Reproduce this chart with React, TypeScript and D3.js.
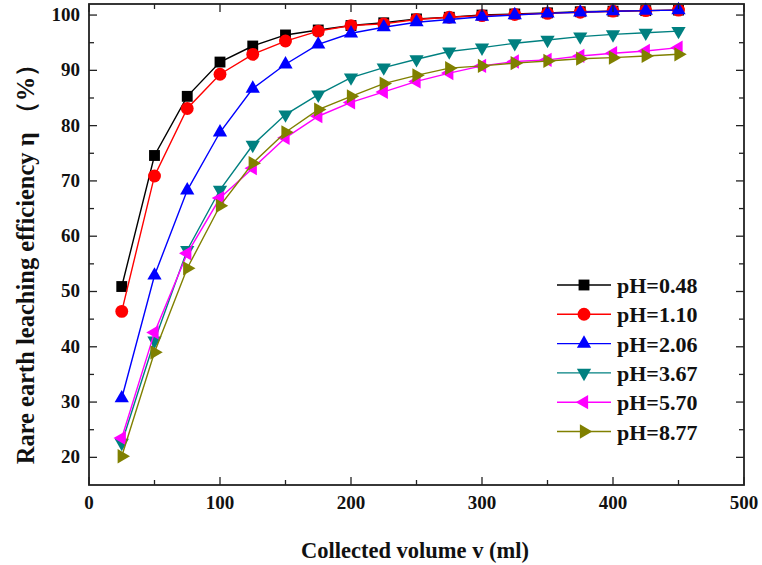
import React from "react";
import * as d3 from "d3";

const volumes = [25, 50, 75, 100, 125, 150, 175, 200, 225, 250, 275, 300, 325, 350, 375, 400, 425, 450];
const ph048 = [50.9, 74.6, 85.3, 91.5, 94.4, 96.4, 97.3, 98.1, 98.6, 99.3, 99.6, 100.0, 100.2, 100.4, 100.6, 100.7, 100.8, 100.9];
const ph110 = [46.4, 70.9, 83.1, 89.3, 92.9, 95.3, 97.1, 98.1, 98.4, 99.2, 99.6, 99.9, 100.1, 100.3, 100.5, 100.7, 100.8, 100.9];
const ph206 = [30.7, 52.9, 68.3, 78.8, 86.7, 91.1, 94.7, 96.7, 97.8, 98.7, 99.2, 99.7, 100.0, 100.3, 100.5, 100.7, 100.8, 100.9];
const ph367 = [22.6, 41.1, 57.5, 68.4, 76.5, 82.0, 85.6, 88.7, 90.5, 92.0, 93.4, 94.1, 94.9, 95.5, 96.1, 96.5, 96.8, 97.1];
const ph570 = [23.5, 42.6, 56.9, 66.9, 72.3, 77.8, 81.7, 84.2, 86.1, 88.0, 89.5, 90.8, 91.6, 91.9, 92.6, 93.1, 93.5, 94.1];
const ph877 = [20.2, 39.0, 54.2, 65.5, 73.2, 78.8, 82.9, 85.3, 87.6, 89.1, 90.4, 90.8, 91.3, 91.7, 92.1, 92.3, 92.6, 92.9];

const seriesNames = ["pH=0.48", "pH=1.10", "pH=2.06", "pH=3.67", "pH=5.70", "pH=8.77"];
const seriesValues = [ph048, ph110, ph206, ph367, ph570, ph877];
const seriesColors = ["#000000", "#ff0000", "#0000ff", "#008080", "#ff00ff", "#808000"];
const seriesMarkers = ["square", "circle", "up", "down", "left", "right"];

const xTicks = [0, 100, 200, 300, 400, 500];
const xMinor = [50, 150, 250, 350, 450];
const yTicks = [20, 30, 40, 50, 60, 70, 80, 90, 100];
const yMinor = [25, 35, 45, 55, 65, 75, 85, 95];

const xTitle = "Collected volume v (ml)";
const yTitle = "Rare earth leaching efficiency η  （%）";

const FONT = "'Liberation Serif', 'Times New Roman', serif";

function markerPath(kind: string): { d: string; rot: number } {
  if (kind === "square") return { d: d3.symbol(d3.symbolSquare, 118)() || "", rot: 0 };
  if (kind === "circle") return { d: d3.symbol(d3.symbolCircle, 130)() || "", rot: 0 };
  const tri = d3.symbol(d3.symbolTriangle, 88)() || "";
  const rot = kind === "up" ? 0 : kind === "down" ? 180 : kind === "left" ? -90 : 90;
  return { d: tri, rot };
}

function Marker({ kind, x, y, color }: { kind: string; x: number; y: number; color: string }) {
  const m = markerPath(kind);
  return <path d={m.d} transform={`translate(${x},${y}) rotate(${m.rot})`} fill={color} stroke="none" />;
}

export default function App() {
  const left = 89, right = 744, top = 4, bottom = 485;
  const x = d3.scaleLinear().domain([0, 500]).range([left, right]);
  const y = d3.scaleLinear().domain([15, 102]).range([bottom, top]);
  const line = d3.line<number>().x((_, i) => x(volumes[i])).y((v) => y(v));
  const frame = "#222";
  const major = 8, minor = 5;
  const legX = 557, legY = 285, legStep = 29.3;

  return (
    <svg width={762} height={565} style={{ position: "absolute", left: 0, top: 0, background: "#fff" }}>
      <rect x={0} y={0} width={762} height={565} fill="#fff" />
      {seriesValues.map((vals, si) => (
        <g key={si}>
          <path d={line(vals) || ""} fill="none" stroke={seriesColors[si]} strokeWidth={1.4} />
          {vals.map((v, i) => (
            <Marker key={i} kind={seriesMarkers[si]} x={x(volumes[i])} y={y(v)} color={seriesColors[si]} />
          ))}
        </g>
      ))}
      <rect x={left} y={top} width={right - left} height={bottom - top} fill="none" stroke={frame} strokeWidth={1.8} />
      {xTicks.map((t) => (
        <g key={"xt" + t}>
          <line x1={x(t)} x2={x(t)} y1={bottom} y2={bottom - major} stroke={frame} strokeWidth={1.3} />
          <line x1={x(t)} x2={x(t)} y1={top} y2={top + major} stroke={frame} strokeWidth={1.3} />
          <text x={x(t)} y={509} textAnchor="middle" fontFamily={FONT} fontWeight="bold" fontSize={19} fill="#111">
            {t}
          </text>
        </g>
      ))}
      {xMinor.map((t) => (
        <g key={"xm" + t}>
          <line x1={x(t)} x2={x(t)} y1={bottom} y2={bottom - minor} stroke={frame} strokeWidth={1.3} />
          <line x1={x(t)} x2={x(t)} y1={top} y2={top + minor} stroke={frame} strokeWidth={1.3} />
        </g>
      ))}
      {yTicks.map((t) => (
        <g key={"yt" + t}>
          <line x1={left} x2={left + major} y1={y(t)} y2={y(t)} stroke={frame} strokeWidth={1.3} />
          <line x1={right} x2={right - major} y1={y(t)} y2={y(t)} stroke={frame} strokeWidth={1.3} />
          <text x={80} y={y(t) + 6} textAnchor="end" fontFamily={FONT} fontWeight="bold" fontSize={19} fill="#111">
            {t}
          </text>
        </g>
      ))}
      {yMinor.map((t) => (
        <g key={"ym" + t}>
          <line x1={left} x2={left + minor} y1={y(t)} y2={y(t)} stroke={frame} strokeWidth={1.3} />
          <line x1={right} x2={right - minor} y1={y(t)} y2={y(t)} stroke={frame} strokeWidth={1.3} />
        </g>
      ))}
      <text x={415} y={558} textAnchor="middle" fontFamily={FONT} fontWeight="bold" fontSize={22.5} fill="#111">
        {xTitle}
      </text>
      <text
        transform={`translate(34,258) rotate(-90)`}
        textAnchor="middle"
        fontFamily={FONT}
        fontWeight="bold"
        fontSize={24.5}
        fill="#111"
      >
        {yTitle}
      </text>
      {seriesNames.map((name, si) => {
        const ly = legY + si * legStep;
        return (
          <g key={"lg" + si}>
            <line x1={legX} x2={legX + 54} y1={ly} y2={ly} stroke={seriesColors[si]} strokeWidth={1.4} />
            <Marker kind={seriesMarkers[si]} x={legX + 27} y={ly} color={seriesColors[si]} />
            <text x={617} y={ly + 8} fontFamily={FONT} fontWeight="bold" fontSize={22} fill="#111">
              {name}
            </text>
          </g>
        );
      })}
    </svg>
  );
}
